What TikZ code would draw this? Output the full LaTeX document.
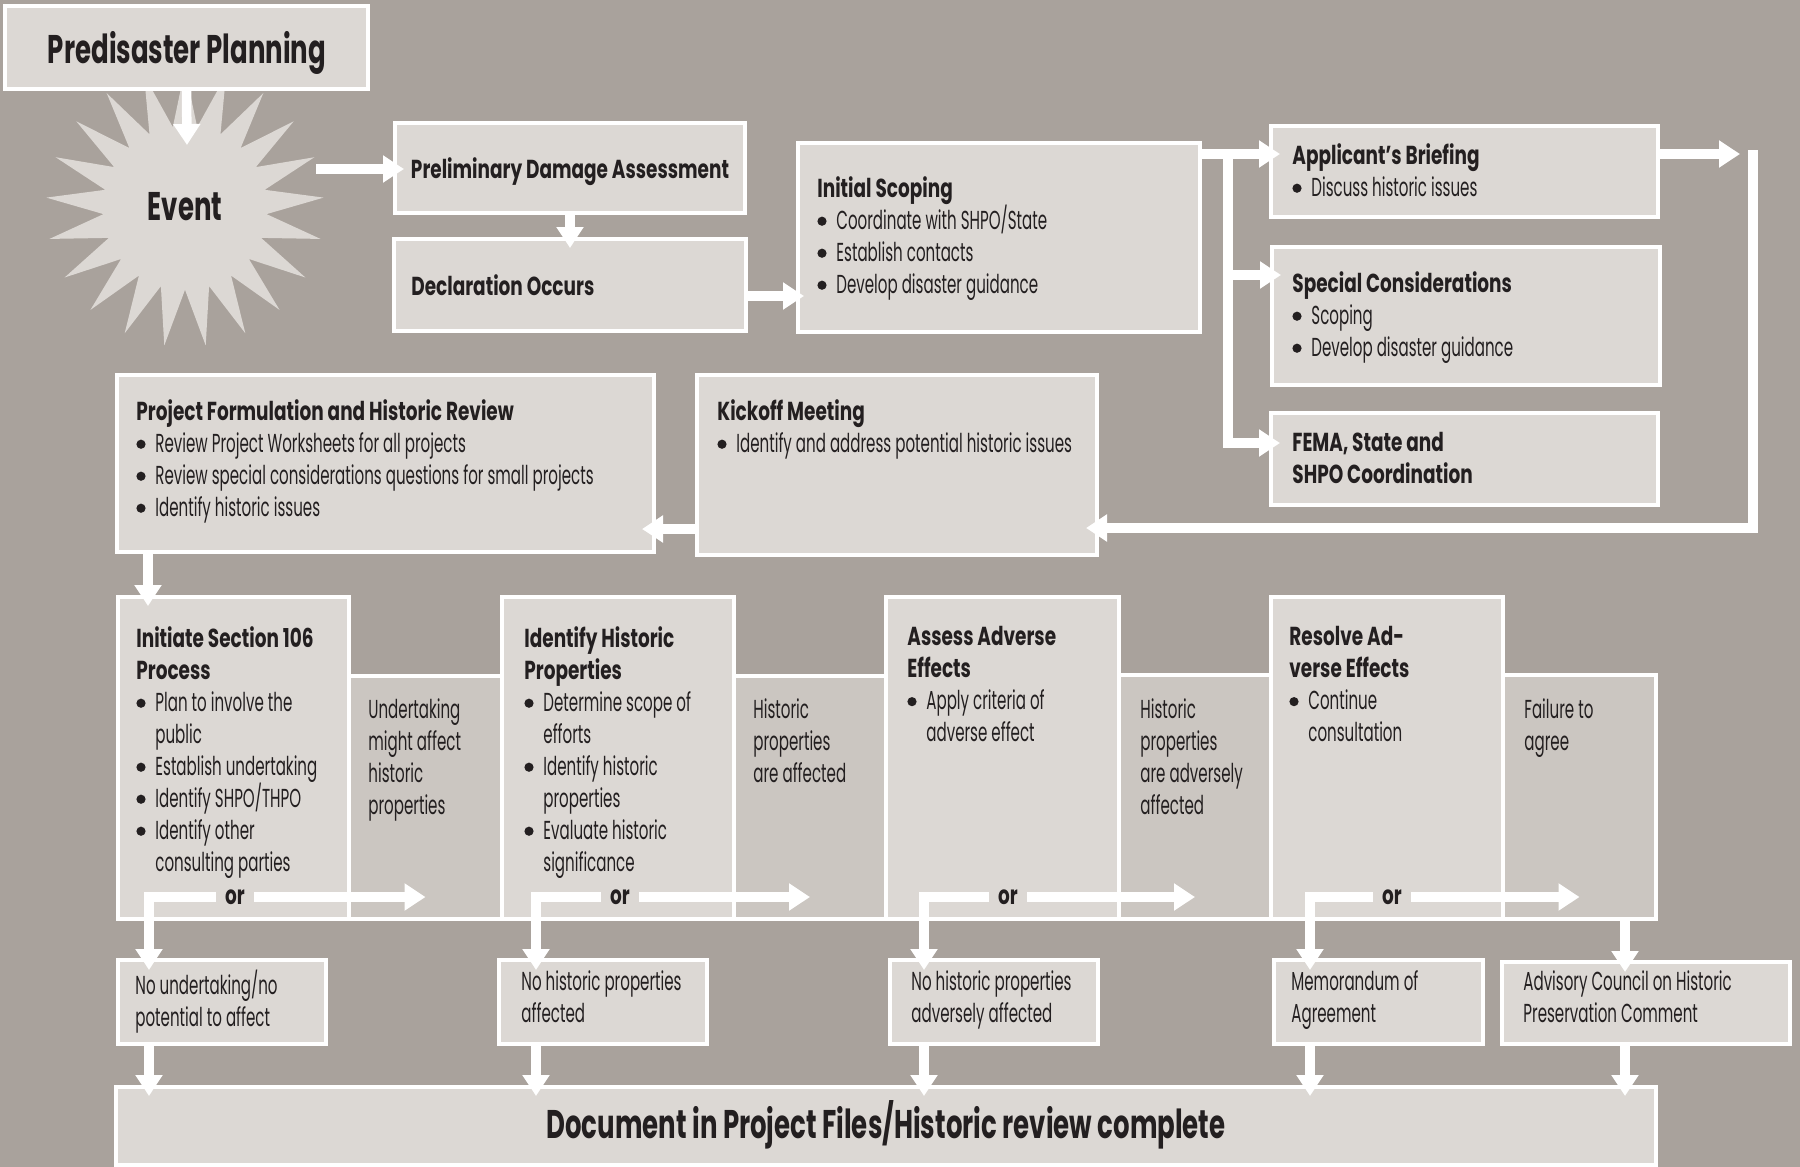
\documentclass[tikz,border=0pt]{standalone}
\usepackage{fontspec}
\setmainfont{Poppins}[FakeStretch=0.58]
\newfontfamily\rf{Poppins}[FakeStretch=0.58]
\newfontfamily\hf{Poppins}[FakeStretch=0.71]
\newfontfamily\gf{Poppins}[FakeStretch=0.65]
\usetikzlibrary{shapes.geometric,arrows.meta,fit}
\definecolor{bg}{HTML}{A9A29C}
\definecolor{boxf}{HTML}{DCD8D4}
\definecolor{sidef}{HTML}{CBC6C1}
\definecolor{ink}{HTML}{231F20}
\tikzset{
 bx/.style={draw=white, line width=1.6pt, fill=boxf, inner sep=0pt, outer sep=0pt},
 sbx/.style={bx, fill=sidef},
 tx/.style={inner sep=0pt, anchor=north west, align=left, text=ink, font=\rf\fontsize{13}{16}\selectfont},
 ttl/.style={inner sep=0pt, text=ink, font=\gf\bfseries\fontsize{20}{24}\selectfont},
 hdl/.style={inner sep=0pt, text=ink, font=\hf\bfseries\fontsize{13}{16}\selectfont},
 warrow/.style={draw=white, line width=4.75pt, line join=miter, -{Triangle[length=10.5pt,width=13pt]}},
 into/.style={shorten >=-4.5pt},
 ortx/.style={inner ysep=0pt, inner xsep=4.5pt, text=ink, font=\hf\bfseries\fontsize{13}{16}\selectfont},
}
\newcommand\hd[1]{{\hf\bfseries #1}}
\newcommand\bu{\makebox[9.5pt][l]{\tikz[baseline=0pt]\fill[ink] (2.3pt,4pt) circle[radius=2.3pt];}}
\newcommand\ind{\hspace*{9.5pt}}
\begin{document}
\begin{tikzpicture}[x=0.5pt,y=-0.5pt]
\fill[bg] (0,0) rectangle (1800,1167);
\useasboundingbox (0,0) rectangle (1800,1167);
% star
\node[star, star points=21, star point ratio=1.7, minimum size=139pt, fill=boxf, inner sep=0pt] (ev) at (185,208) {};
% top boxes
\node[bx, fit={(5,6) (368,89)}] (pp) {};
\node[bx, fit={(395,123) (745,213)}] (pda) {};
\node[bx, fit={(394,239) (746,331)}] (decl) {};
\node[bx, fit={(798,143) (1200,332)}] (is) {};
\node[bx, fit={(1271,126) (1658,217)}] (app) {};
\node[bx, fit={(1272,247) (1660,385)}] (spec) {};
\node[bx, fit={(1271,413) (1658,505)}] (fema) {};
\node[bx, fit={(697,375) (1097,555)}] (kick) {};
\node[bx, fit={(117,375) (654,552)}] (pf) {};
% side panels
\node[sbx, fit={(349,676) (502,919)}] (side1) {};
\node[sbx, fit={(734,676) (886,919)}] (side2) {};
\node[sbx, fit={(1119,675) (1271,919)}] (side3) {};
\node[sbx, fit={(1503,675) (1656,919)}] (side4) {};
% stage boxes
\node[bx, fit={(118,597) (349,919)}] (init) {};
\node[bx, fit={(502,597) (734,919)}] (ihp) {};
\node[bx, fit={(886,597) (1119,919)}] (aae) {};
\node[bx, fit={(1271,597) (1503,919)}] (rae) {};
% outcomes
\node[bx, fit={(118,960) (326,1044)}] (out1) {};
\node[bx, fit={(499,960) (707,1044)}] (out2) {};
\node[bx, fit={(890,960) (1098,1044)}] (out3) {};
\node[bx, fit={(1274,960) (1483,1044)}] (out4) {};
\node[bx, fit={(1502,962) (1790,1044)}] (adv) {};
\node[bx, fit={(116,1087) (1656,1165)}] (doc) {};
% texts
\node[ttl, anchor=base] (ppt) at (187,63) {Predisaster Planning};
\node[ttl, anchor=base] (evt) at (185,220) {Event};
\node[hdl, anchor=base] (pdat) at (570,178) {Preliminary Damage Assessment};
\node[hdl, anchor=base west] (declt) at (411,295) {Declaration Occurs};
\node[tx] (ist) at (817,176) {\hd{Initial Scoping}\\\bu Coordinate with SHPO/State\\\bu Establish contacts\\\bu Develop disaster guidance};
\node[tx] (appt) at (1292,143) {\hd{Applicant’s Briefing}\\\bu Discuss historic issues};
\node[tx] (spect) at (1292,271) {\hd{Special Considerations}\\\bu Scoping\\\bu Develop disaster guidance};
\node[tx] (femat) at (1292,432) {\hd{FEMA, State and}\\\hd{SHPO Coordination}};
\node[tx] (kickt) at (717,399) {\hd{Kickoff Meeting}\\\bu Identify and address potential historic issues};
\node[tx] (pft) at (136,399) {\hd{Project Formulation and Historic Review}\\\bu Review Project Worksheets for all projects\\\bu Review special considerations questions for small projects\\\bu Identify historic issues};
\node[tx] (initt) at (136,626) {\hd{Initiate Section 106}\\\hd{Process}\\\bu Plan to involve the\\\ind public\\\bu Establish undertaking\\\bu Identify SHPO/THPO\\\bu Identify other\\\ind consulting parties};
\node[tx] (ihpt) at (524,626) {\hd{Identify Historic}\\\hd{Properties}\\\bu Determine scope of\\\ind efforts\\\bu Identify historic\\\ind properties\\\bu Evaluate historic\\\ind significance};
\node[tx] (aaet) at (907,626) {\hd{Assess Adverse}\\\hd{Effects}\\\bu Apply criteria of\\\ind adverse effect};
\node[tx] (raet) at (1289,626) {\hd{Resolve Ad-}\\\hd{verse Effects}\\\bu Continue\\\ind consultation};
\node[tx] (s1t) at (368,698) {Undertaking\\might affect\\historic\\properties};
\node[tx] (s2t) at (753,698) {Historic\\properties\\are affected};
\node[tx] (s3t) at (1140,698) {Historic\\properties\\are adversely\\affected};
\node[tx] (s4t) at (1524,698) {Failure to\\agree};
\node[tx] (o1t) at (135,970) {No undertaking/no\\potential to affect};
\node[tx] (o2t) at (521,970) {No historic properties\\affected};
\node[tx] (o3t) at (911,970) {No historic properties\\adversely affected};
\node[tx] (o4t) at (1291,970) {Memorandum of\\Agreement};
\node[tx] (o5t) at (1523,970) {Advisory Council on Historic\\Preservation Comment};
\node[ttl, anchor=base] (doct) at (886,1138) {Document in Project Files/Historic review complete};
% top arrows
\coordinate (cpp) at (187,145);
\draw[warrow] (pp.south) -- (cpp);
\coordinate (cev) at (316,169);
\draw[warrow,into] (cev) -- (pda.west |- cev);
\draw[warrow,into] (pda.south) -- (decl.north);
\coordinate (cd) at (746,296);
\draw[warrow,shorten >=-3pt] (decl.east |- cd) -- (is.west |- cd);
\coordinate (br0) at (1228,154);
\coordinate (br1) at (1228,275);
\coordinate (br2) at (1228,443);
\draw[warrow,into] (is.east |- br0) -- (app.west |- br0);
\draw[warrow,into] (br0) -- (br2) -- (fema.west |- br2);
\draw[warrow,into] (br1) -- (spec.west |- br1);
\coordinate (lpa) at (1740,154);
\draw[warrow] (app.east |- lpa) -- (lpa);
\coordinate (lp0) at (1753,150);
\coordinate (lp1) at (1753,528);
\draw[warrow,shorten >=-5.5pt] (lp0) -- (lp1) -- (kick.east |- lp1);
\coordinate (kp) at (697,529);
\draw[warrow,shorten >=-6pt] (kick.west |- kp) -- (pf.east |- kp);
\coordinate (pfd) at (148,552);
\draw[warrow,into] (pf.south -| pfd) -- (init.north -| pfd);
% or branches
\node[ortx] (or1) at (235,897) {or};
\node[ortx] (or2) at (620,897) {or};
\node[ortx] (or3) at (1008,897) {or};
\node[ortx] (or4) at (1392,897) {or};
\coordinate (L1) at (149,897);
\coordinate (L2) at (536,897);
\coordinate (L3) at (924,897);
\coordinate (L4) at (1310,897);
\coordinate (A) at (1625,919);
\draw[warrow,shorten >=-5pt] (or1.west) -| (out1.north -| L1);
\draw[warrow,shorten >=-5pt] (or2.west) -| (out2.north -| L2);
\draw[warrow,shorten >=-5pt] (or3.west) -| (out3.north -| L3);
\draw[warrow,shorten >=-5pt] (or4.west) -| (out4.north -| L4);
\draw[warrow] (or1.east) -- (or1.east -| side1.center);
\draw[warrow] (or2.east) -- (or2.east -| side2.center);
\draw[warrow] (or3.east) -- (or3.east -| side3.center);
\draw[warrow] (or4.east) -- (or4.east -| side4.center);
\draw[warrow,shorten >=-5pt] (side4.south -| A) -- (adv.north -| A);
% to document
\draw[warrow,into] (out1.south -| L1) -- (doc.north -| L1);
\draw[warrow,into] (out2.south -| L2) -- (doc.north -| L2);
\draw[warrow,into] (out3.south -| L3) -- (doc.north -| L3);
\draw[warrow,into] (out4.south -| L4) -- (doc.north -| L4);
\draw[warrow,into] (adv.south -| A) -- (doc.north -| A);
\end{tikzpicture}
\end{document}
